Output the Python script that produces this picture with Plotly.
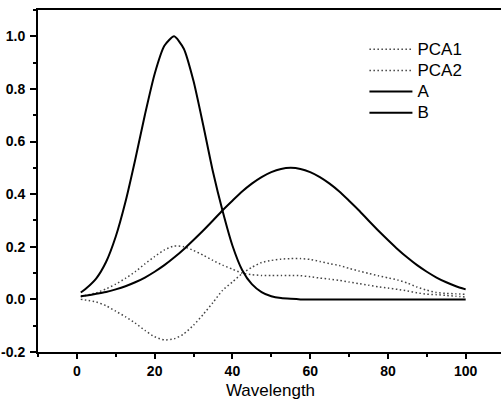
import plotly.graph_objects as go

wavelength = [1, 2.5, 5, 7.5, 10, 12.5, 15, 17.5, 20, 22.5, 25, 27.5, 30, 32.5, 35, 37.5,
              40, 42.5, 45, 47.5, 50, 52.5, 55, 57.5, 60, 62.5, 65, 67.5, 70, 72.5, 75,
              77.5, 80, 82.5, 85, 87.5, 90, 92.5, 95, 97.5, 100]

pca1 = [0.01, 0.016, 0.025, 0.04, 0.058, 0.08, 0.105, 0.135, 0.163, 0.188, 0.203, 0.2,
        0.186, 0.168, 0.148, 0.13, 0.115, 0.1, 0.094, 0.091, 0.091, 0.091, 0.091, 0.09,
        0.086, 0.081, 0.077, 0.072, 0.066, 0.06, 0.054, 0.048, 0.043, 0.038, 0.032,
        0.025, 0.02, 0.018, 0.015, 0.012, 0.009]

pca2 = [0.0, -0.003, -0.01, -0.024, -0.045, -0.066, -0.09, -0.118, -0.142, -0.154,
        -0.15, -0.131, -0.098, -0.057, -0.012, 0.035, 0.066, 0.098, 0.122, 0.14, 0.148,
        0.153, 0.155, 0.155, 0.152, 0.144, 0.136, 0.129, 0.118, 0.108, 0.099, 0.09,
        0.082, 0.074, 0.062, 0.047, 0.035, 0.026, 0.023, 0.021, 0.019]

series_a = [0.026, 0.043, 0.08, 0.142, 0.239, 0.371, 0.531, 0.702, 0.857, 0.964, 1.0, 0.953,
            0.83, 0.662, 0.485, 0.335, 0.205, 0.112, 0.058, 0.028, 0.012, 0.005, 0.002, 0,
            0, 0, 0, 0, 0, 0, 0, 0, 0, 0, 0, 0, 0, 0, 0, 0, 0]

series_b = [0.012, 0.015, 0.021, 0.028, 0.038, 0.050, 0.065, 0.083, 0.105, 0.130, 0.159,
            0.191, 0.226, 0.262, 0.300, 0.339, 0.375, 0.410, 0.440, 0.465, 0.484, 0.496,
            0.500, 0.496, 0.484, 0.465, 0.440, 0.410, 0.375, 0.339, 0.300, 0.262, 0.226,
            0.191, 0.159, 0.130, 0.105, 0.083, 0.065, 0.050, 0.038]

x_ticks = [0, 20, 40, 60, 80, 100]
y_ticks = [-0.2, 0.0, 0.2, 0.4, 0.6, 0.8, 1.0]
y_tick_labels = ["-0.2", "0.0", "0.2", "0.4", "0.6", "0.8", "1.0"]
series_names = ["PCA1", "PCA2", "A", "B"]

FONT = "Liberation Sans, Arial, sans-serif"


def legend_name(s):
    return '<span style="font-size:17px">' + s + '</span>'


fig = go.Figure()
dotted = dict(color="#444444", width=1.5, dash="1.5px,2.5px", shape="spline", smoothing=0.6)
solid = dict(color="#000000", width=2, shape="spline", smoothing=0.6)
fig.add_trace(go.Scatter(x=wavelength, y=pca1, name=legend_name(series_names[0]), mode="lines", line=dotted))
fig.add_trace(go.Scatter(x=wavelength, y=pca2, name=legend_name(series_names[1]), mode="lines", line=dotted))
fig.add_trace(go.Scatter(x=wavelength, y=series_a, name=legend_name(series_names[2]), mode="lines", line=solid))
fig.add_trace(go.Scatter(x=wavelength, y=series_b, name=legend_name(series_names[3]), mode="lines", line=solid))

fig.update_layout(
    width=503, height=407,
    margin=dict(l=38, r=0, t=10, b=55),
    paper_bgcolor="white", plot_bgcolor="white",
    font=dict(family=FONT, color="black", size=14),
    showlegend=True,
    legend=dict(x=0.702, y=0.931, xanchor="left", yanchor="top",
                bgcolor="rgba(0,0,0,0)", borderwidth=0,
                font=dict(family=FONT, size=14, color="black"),
                itemwidth=43, tracegroupgap=0),
    xaxis=dict(
        range=[-10, 109.6], showgrid=False, zeroline=False,
        showline=True, linecolor="black", linewidth=2, mirror=True,
        ticks="outside", ticklen=5, tickwidth=2, tickcolor="black",
        tickvals=x_ticks, tickfont=dict(family=FONT, size=14, color="black", weight="bold"),
        minor=dict(dtick=10, tick0=0, ticks="outside", ticklen=3, tickwidth=1.5, tickcolor="black"),
        title=dict(text="Wavelength", font=dict(family=FONT, size=17, color="black"), standoff=6),
    ),
    yaxis=dict(
        range=[-0.2, 1.1], showgrid=False, zeroline=False,
        showline=True, linecolor="black", linewidth=2, mirror=False,
        ticks="outside", ticklen=6, tickwidth=2, tickcolor="black",
        tickvals=y_ticks, ticktext=y_tick_labels, ticklabelstandoff=2,
        tickfont=dict(family=FONT, size=14, color="black", weight="bold"),
        minor=dict(dtick=0.1, tick0=0, ticks="outside", ticklen=3, tickwidth=1.5, tickcolor="black"),
    ),
)

fig.write_html("out.html", config={"displayModeBar": False},
               post_script="document.body.style.margin='0px';document.body.style.overflow='hidden';")
